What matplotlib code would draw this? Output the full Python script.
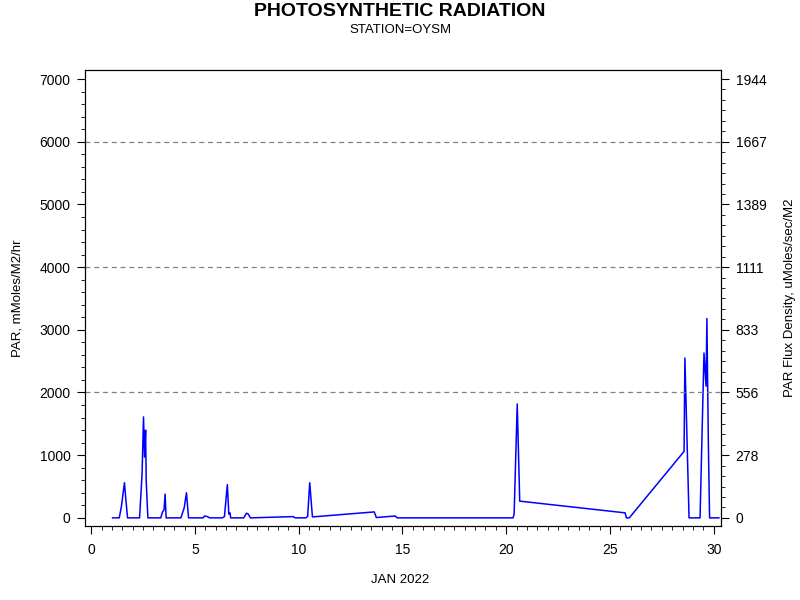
import numpy as np
import matplotlib
matplotlib.use("Agg")
import matplotlib.pyplot as plt
from matplotlib.ticker import MultipleLocator, FixedLocator

plt.rcParams['font.family'] = ['Liberation Sans', 'DejaVu Sans']

# day of month (JAN 2022) and PAR in mMoles/M2/hr
days = [1.03, 1.35, 1.45, 1.6, 1.67, 1.75, 2.33, 2.45, 2.52, 2.57, 2.62, 2.65, 2.73,
        3.35, 3.43, 3.51, 3.56, 3.61, 4.32, 4.48, 4.59, 4.69,
        5.39, 5.46, 5.6, 5.71, 6.32, 6.42, 6.56, 6.63, 6.69, 6.72,
        7.35, 7.48, 7.57, 7.67, 9.74, 9.82, 10.35, 10.43, 10.53, 10.66,
        13.64, 13.74, 14.65, 14.75, 20.33, 20.38, 20.53, 20.65,
        25.73, 25.79, 25.93, 28.57, 28.61, 28.81, 29.34, 29.53, 29.63, 29.67,
        29.74, 29.8, 30.25]
par = [0, 0, 170, 560, 290, 0, 0, 700, 1610, 970, 1400, 590, 0,
       0, 90, 130, 380, 0, 0, 160, 400, 0,
       0, 30, 20, 0, 0, 20, 530, 60, 80, 0,
       0, 75, 60, 0, 20, 0, 0, 25, 560, 15,
       95, 5, 30, 0, 0, 60, 1817, 267,
       80, 0, 0, 1060, 2550, 0, 0, 2630, 2100, 3180,
       1200, 0, 0]

left_ticks = [0, 1000, 2000, 3000, 4000, 5000, 6000, 7000]
grid_levels = [2000, 4000, 6000]
conv = 1000.0 / 3600.0  # mMoles/M2/hr -> uMoles/sec/M2

fig = plt.figure(figsize=(8, 6), dpi=100)
ax = fig.add_axes([0.10625, 0.1233, 0.795, 0.76])
ax.plot(days, par, color='blue', lw=1.1)

ymin, ymax = -130, 7144
ax.set_xlim(-0.3, 30.35)
ax.set_ylim(ymin, ymax)

for g in grid_levels:
    ax.axhline(g, color='gray', ls=(0, (4, 3)), lw=0.9)

ax.xaxis.set_major_locator(MultipleLocator(5))
ax.xaxis.set_minor_locator(MultipleLocator(0.5))
ax.set_yticks(left_ticks)
ax.yaxis.set_minor_locator(MultipleLocator(200))
ax.tick_params(which='major', length=5.5, labelsize=10, pad=5)
ax.tick_params(which='minor', length=3)
ax.tick_params(axis='x', which='major', pad=7)

ax2 = ax.twinx()
ax2.set_ylim(ymin * conv, ymax * conv)
ax2.yaxis.set_major_locator(FixedLocator([t * conv for t in left_ticks]))
ax2.set_yticklabels([str(int(round(t * conv))) for t in left_ticks])
ax2.yaxis.set_minor_locator(FixedLocator([k * 1000 / 6 * conv for k in range(0, 43)]))
ax2.tick_params(which='major', length=5.5, labelsize=10, pad=5)
ax2.tick_params(which='minor', length=3)

fig.text(0.5, 1 - 11 / 600, 'PHOTOSYNTHETIC RADIATION', ha='center', va='center',
         fontsize=14, fontweight='bold')
fig.text(0.5, 1 - 30 / 600, 'STATION=OYSM', ha='center', va='center', fontsize=9.5)
fig.text(0.5, 1 - 580 / 600, 'JAN 2022', ha='center', va='center', fontsize=9.5)
fig.text(18 / 800, 0.503, 'PAR, mMoles/M2/hr', ha='center', va='center',
         rotation=90, fontsize=9.5)
fig.text(790 / 800, 0.503, 'PAR Flux Density, uMoles/sec/M2', ha='center',
         va='center', rotation=90, fontsize=9.5)

fig.savefig('out.png', dpi=100)
